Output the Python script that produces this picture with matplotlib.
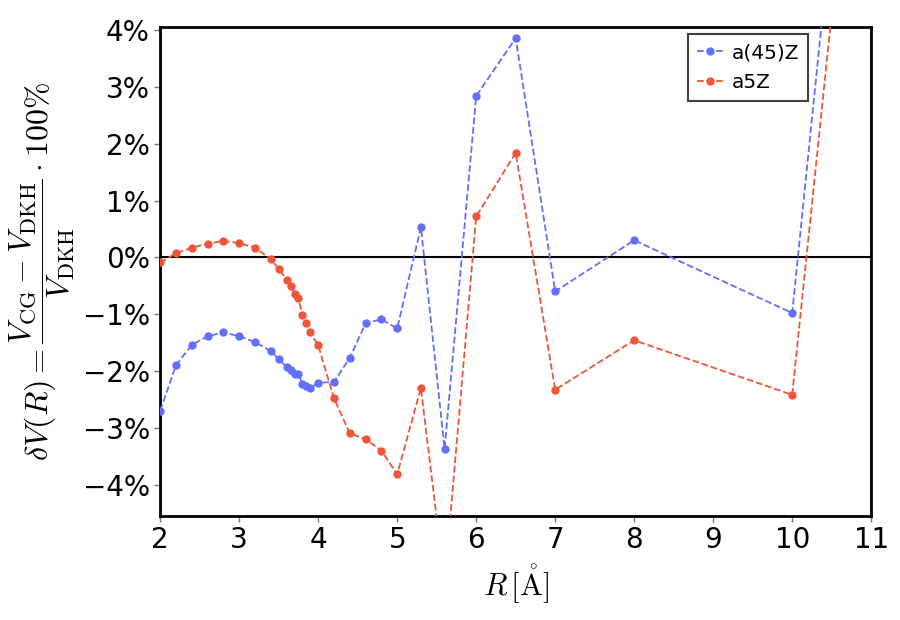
import matplotlib
matplotlib.use("Agg")
import matplotlib.pyplot as plt
from matplotlib.ticker import FuncFormatter

plt.rcParams['mathtext.fontset'] = 'cm'

R = [2.0, 2.2, 2.4, 2.6, 2.8, 3.0, 3.2, 3.4, 3.5, 3.6, 3.65, 3.7, 3.75, 3.8, 3.85, 3.9,
     4.0, 4.2, 4.4, 4.6, 4.8, 5.0, 5.3, 5.6, 6.0, 6.5, 7.0, 8.0, 10.0, 11.0]
a45Z = [-2.70, -1.90, -1.54, -1.39, -1.32, -1.39, -1.49, -1.65, -1.79, -1.93, -1.98, -2.05,
        -2.05, -2.23, -2.26, -2.30, -2.21, -2.19, -1.77, -1.16, -1.09, -1.25, 0.53, -3.37,
        2.84, 3.86, -0.60, 0.30, -0.98, 12.7]
a5Z = [-0.09, 0.07, 0.17, 0.24, 0.29, 0.25, 0.17, -0.03, -0.20, -0.39, -0.50, -0.64,
       -0.72, -1.02, -1.15, -1.32, -1.55, -2.48, -3.10, -3.20, -3.40, -3.82, -2.30, -5.74,
       0.72, 1.84, -2.33, -1.46, -2.42, 11.0]
labels = ["a(45)Z", "a5Z"]
colors = ["#636EFA", "#EF553B"]

fig = plt.figure(figsize=(9, 6.2), dpi=100)
ax = fig.add_axes([0.178, 0.168, 0.79, 0.788])

ax.axhline(0, color='black', lw=1.5, zorder=1)
ax.plot(R, a45Z, '--', marker='o', ms=5, lw=1.3, color=colors[0], label=labels[0], zorder=3)
ax.plot(R, a5Z, '--', marker='o', ms=5, lw=1.3, color=colors[1], label=labels[1], zorder=3)

ax.set_xlim(2, 11)
ax.set_ylim(-4.55, 4.05)
ax.set_xticks(range(2, 12))
ax.set_yticks([-4, -3, -2, -1, 0, 1, 2, 3, 4])
ax.yaxis.set_major_formatter(FuncFormatter(lambda v, p: f"{int(round(v))}%".replace('-', '\u2212')))
ax.tick_params(labelsize=20, width=1, length=4, color='#777777')
for s in ax.spines.values():
    s.set_linewidth(2)

ax.set_xlabel(r'$R\,[\mathring{\mathrm{A}}]$', fontsize=22, labelpad=6)
ax.set_ylabel(r'$\delta V(R)=\dfrac{V_{\rm CG}-V_{\rm DKH}}{V_{\rm DKH}}\cdot 100\%$', fontsize=23,
              labelpad=4)

leg = ax.legend(loc='upper right', bbox_to_anchor=(0.911, 0.986), borderaxespad=0,
                fontsize=14.5, fancybox=False, framealpha=1, edgecolor='#404040',
                handlelength=1.3, handletextpad=0.4, borderpad=0.45, labelspacing=0.55)
leg.get_frame().set_linewidth(1.5)

fig.savefig('out.png', dpi=100)
